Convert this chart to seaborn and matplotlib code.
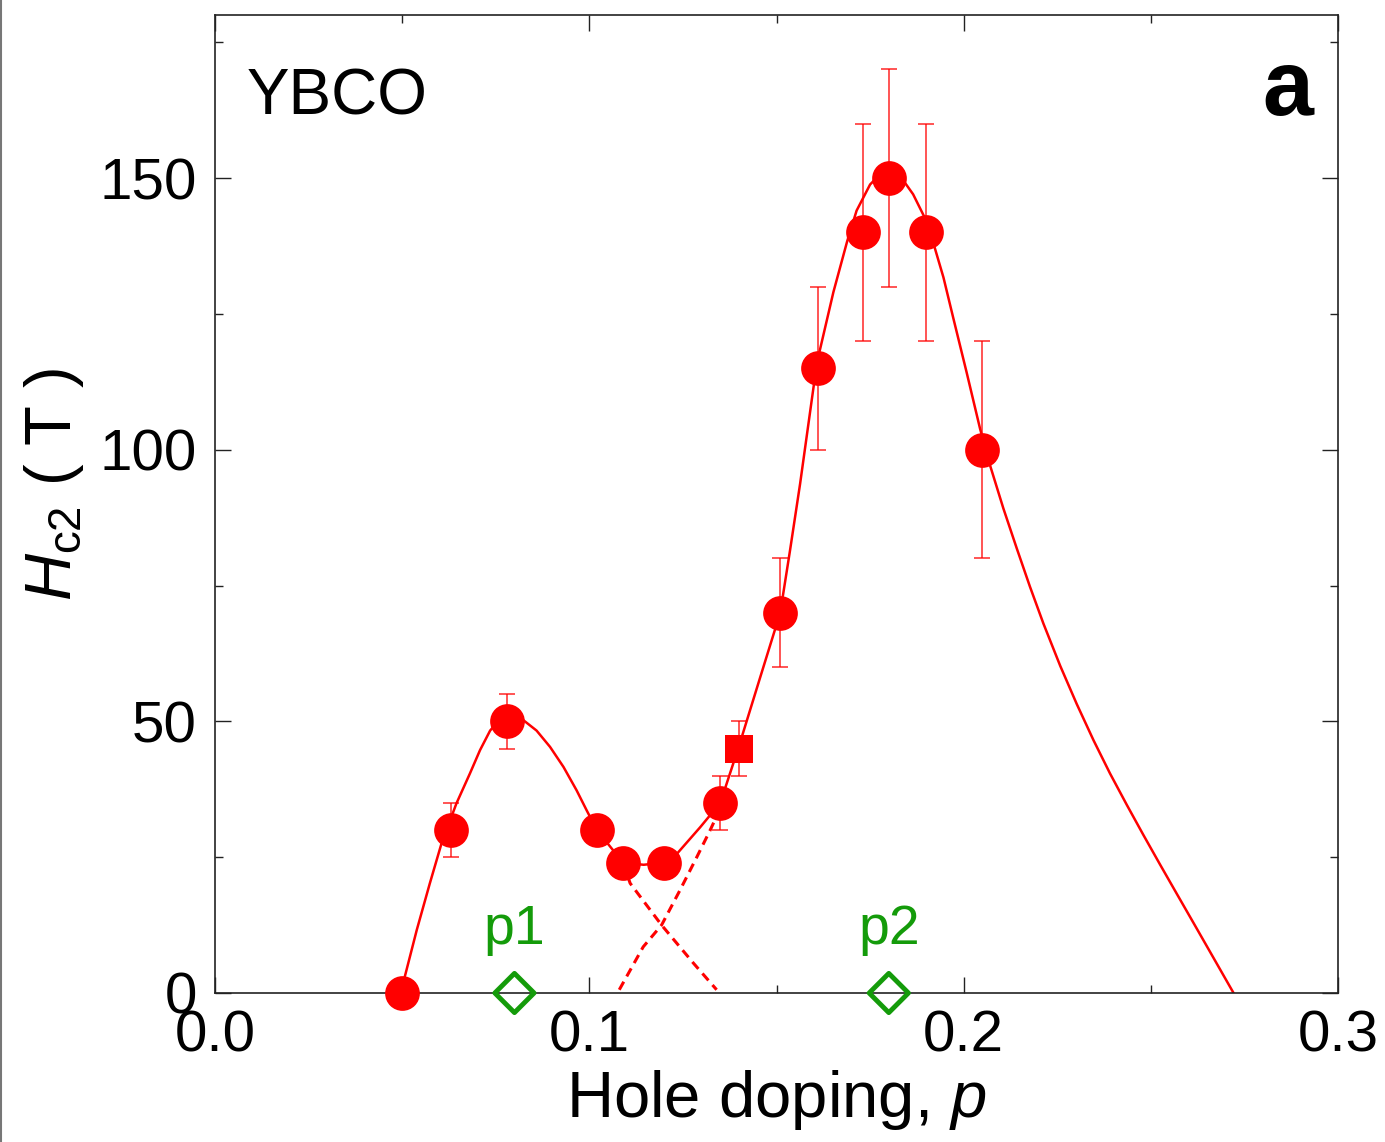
import matplotlib
matplotlib.use("Agg")
import matplotlib.pyplot as plt
from matplotlib.lines import Line2D
from matplotlib.ticker import MultipleLocator, FixedLocator
import seaborn as sns
import numpy as np
import pandas as pd

# ---------------- data ----------------
p_circ = [0.050, 0.063, 0.078, 0.102, 0.109, 0.120, 0.135, 0.151, 0.161, 0.173, 0.180, 0.190, 0.205]
hc2_circ = [0, 30, 50, 30, 24, 24, 35, 70, 115, 140, 150, 140, 100]
err_circ = [0, 5, 5, 0, 0, 0, 5, 10, 15, 20, 20, 20, 20]

p_sq = [0.140]
hc2_sq = [45]
err_sq = [5]

p_diamond = [0.080, 0.180]
hc2_diamond = [0, 0]
diamond_labels = ["p1", "p2"]

fit_p = [0.050, 0.0507, 0.0539, 0.0574, 0.0605, 0.0645, 0.0681, 0.0708, 0.0735, 0.0760,
         0.0790, 0.0824, 0.0859, 0.0895, 0.0931, 0.0966, 0.0993, 0.102, 0.109, 0.1145,
         0.120, 0.1235, 0.1296, 0.135, 0.140, 0.1456, 0.151, 0.1536, 0.1563, 0.1608,
         0.1652, 0.1689, 0.1714, 0.175, 0.1777, 0.180, 0.183, 0.1865, 0.1901, 0.192,
         0.1946, 0.1972, 0.2008, 0.2044, 0.2071, 0.2106, 0.2142, 0.2177, 0.2213, 0.2258,
         0.2302, 0.2347, 0.2391, 0.2436, 0.2480, 0.2525, 0.2569, 0.2614, 0.2658, 0.2721]
fit_h = [0, 3.0, 11.6, 20.2, 27.5, 34.9, 40.4, 44.7, 48.3, 50.3,
         51.0, 50.2, 48.3, 45.3, 41.6, 37.3, 33.6, 30, 24, 23.6,
         24, 25.7, 30.5, 35, 45.5, 58, 70, 81.4, 93.7, 116,
         129, 138.4, 144, 148.8, 150.7, 151.2, 150.4, 147, 142, 137.8,
         131.7, 124.3, 114.2, 103.8, 97.0, 89.2, 81.8, 74.8, 68.0, 60.2,
         53.2, 46.5, 40.4, 34.6, 29.1, 23.6, 18.3, 12.9, 7.6, 0]

dash1_p = [0.109, 0.1109, 0.1193, 0.1278, 0.1340]
dash1_h = [24, 20.2, 12.5, 5.5, 0.6]
dash2_p = [0.1080, 0.1144, 0.1193, 0.1242, 0.1287, 0.1323, 0.135]
dash2_h = [0.6, 8.5, 12.5, 18.9, 25, 30, 34]

x_ticks = [0.0, 0.1, 0.2, 0.3]
x_ticklabels = ["0.0", "0.1", "0.2", "0.3"]
y_ticks = [0, 50, 100, 150]

RED = "#FF0000"
GREEN = "#149B0A"

# ---------------- style ----------------
sns.set_style("ticks")
plt.rcParams["font.family"] = ["Liberation Sans", "DejaVu Sans"]
plt.rcParams["mathtext.fontset"] = "custom"
plt.rcParams["mathtext.rm"] = "Liberation Sans"
plt.rcParams["mathtext.it"] = "Liberation Sans:italic"
plt.rcParams["mathtext.bf"] = "Liberation Sans:bold"
for k in ["text.color", "axes.labelcolor", "xtick.color", "ytick.color", "axes.edgecolor"]:
    plt.rcParams[k] = "black"

fig = plt.figure(figsize=(13.85, 11.42), dpi=100)
ax = fig.add_axes([215 / 1385, 1 - 993 / 1142, (1338 - 215) / 1385, (993 - 15) / 1142])

# fit curves
sns.lineplot(x=fit_p, y=fit_h, ax=ax, color=RED, lw=1.8, sort=False, estimator=None, zorder=2)
sns.lineplot(x=dash1_p, y=dash1_h, ax=ax, color=RED, lw=2.2, sort=False, estimator=None,
             linestyle=(0, (3, 2)), zorder=2)
sns.lineplot(x=dash2_p, y=dash2_h, ax=ax, color=RED, lw=2.2, sort=False, estimator=None,
             linestyle=(0, (3, 2)), zorder=2)

# error bars (only where present)
pe = np.array(p_circ + p_sq)
he = np.array(hc2_circ + hc2_sq)
ee = np.array(err_circ + err_sq)
m = ee > 0
ax.errorbar(pe[m], he[m], yerr=ee[m], fmt="none", ecolor=RED, elinewidth=1.1,
            capsize=6, capthick=1.1, alpha=0.85, zorder=3)

# markers
df_c = pd.DataFrame({"p": p_circ, "h": hc2_circ})
sns.scatterplot(data=df_c, x="p", y="h", ax=ax, marker="o", s=25 ** 2, color=RED,
                linewidth=0, zorder=4, clip_on=False)
df_s = pd.DataFrame({"p": p_sq, "h": hc2_sq})
sns.scatterplot(data=df_s, x="p", y="h", ax=ax, marker="s", s=20 ** 2, color=RED,
                linewidth=0, zorder=4)
df_d = pd.DataFrame({"p": p_diamond, "h": hc2_diamond})
sns.scatterplot(data=df_d, x="p", y="h", ax=ax, marker="D", s=20 ** 2, facecolor="none",
                edgecolor=GREEN, linewidth=3.5, zorder=5, clip_on=False)
for px, lab in zip(p_diamond, diamond_labels):
    ax.text(px, 9, lab, color=GREEN, fontsize=40, ha="center", va="baseline")

# axes
ax.set_xlim(0, 0.3)
ax.set_ylim(0, 180)
ax.xaxis.set_major_locator(FixedLocator(x_ticks))
ax.set_xticklabels(x_ticklabels)
ax.xaxis.set_minor_locator(MultipleLocator(0.05))
ax.yaxis.set_major_locator(FixedLocator(y_ticks))
ax.yaxis.set_minor_locator(MultipleLocator(25))
ax.tick_params(which="both", direction="in", top=True, right=True, width=1.0,
               color="#222222", labelcolor="black")
ax.tick_params(which="major", length=11.5, labelsize=42)
ax.tick_params(axis="x", which="major", pad=12)
ax.tick_params(axis="y", which="major", pad=13)
ax.tick_params(which="minor", length=5.8)
for sp in ax.spines.values():
    sp.set_linewidth(1.2)
    sp.set_color("#222222")

ax.set_xlabel("Hole doping, $p$", fontsize=47, color="black")
ax.xaxis.set_label_coords(0.5, -0.077)
ax.set_ylabel(r"$H_{\mathrm{c2}}$ ( T )", fontsize=47, color="black")
ax.yaxis.set_label_coords(-0.115, 0.52)

ax.text(0.028, 0.898, "YBCO", transform=ax.transAxes, fontsize=46, ha="left", va="baseline",
        color="black")
ax.text(0.978, 0.898, "a", transform=ax.transAxes, fontsize=66, fontweight="bold",
        ha="right", va="baseline", color="black")

# left border line seen in the reference
fig.add_artist(Line2D([0.0008, 0.0008], [0, 1], transform=fig.transFigure, color="#777777", lw=1.5))

fig.savefig("out.png", dpi=100)
